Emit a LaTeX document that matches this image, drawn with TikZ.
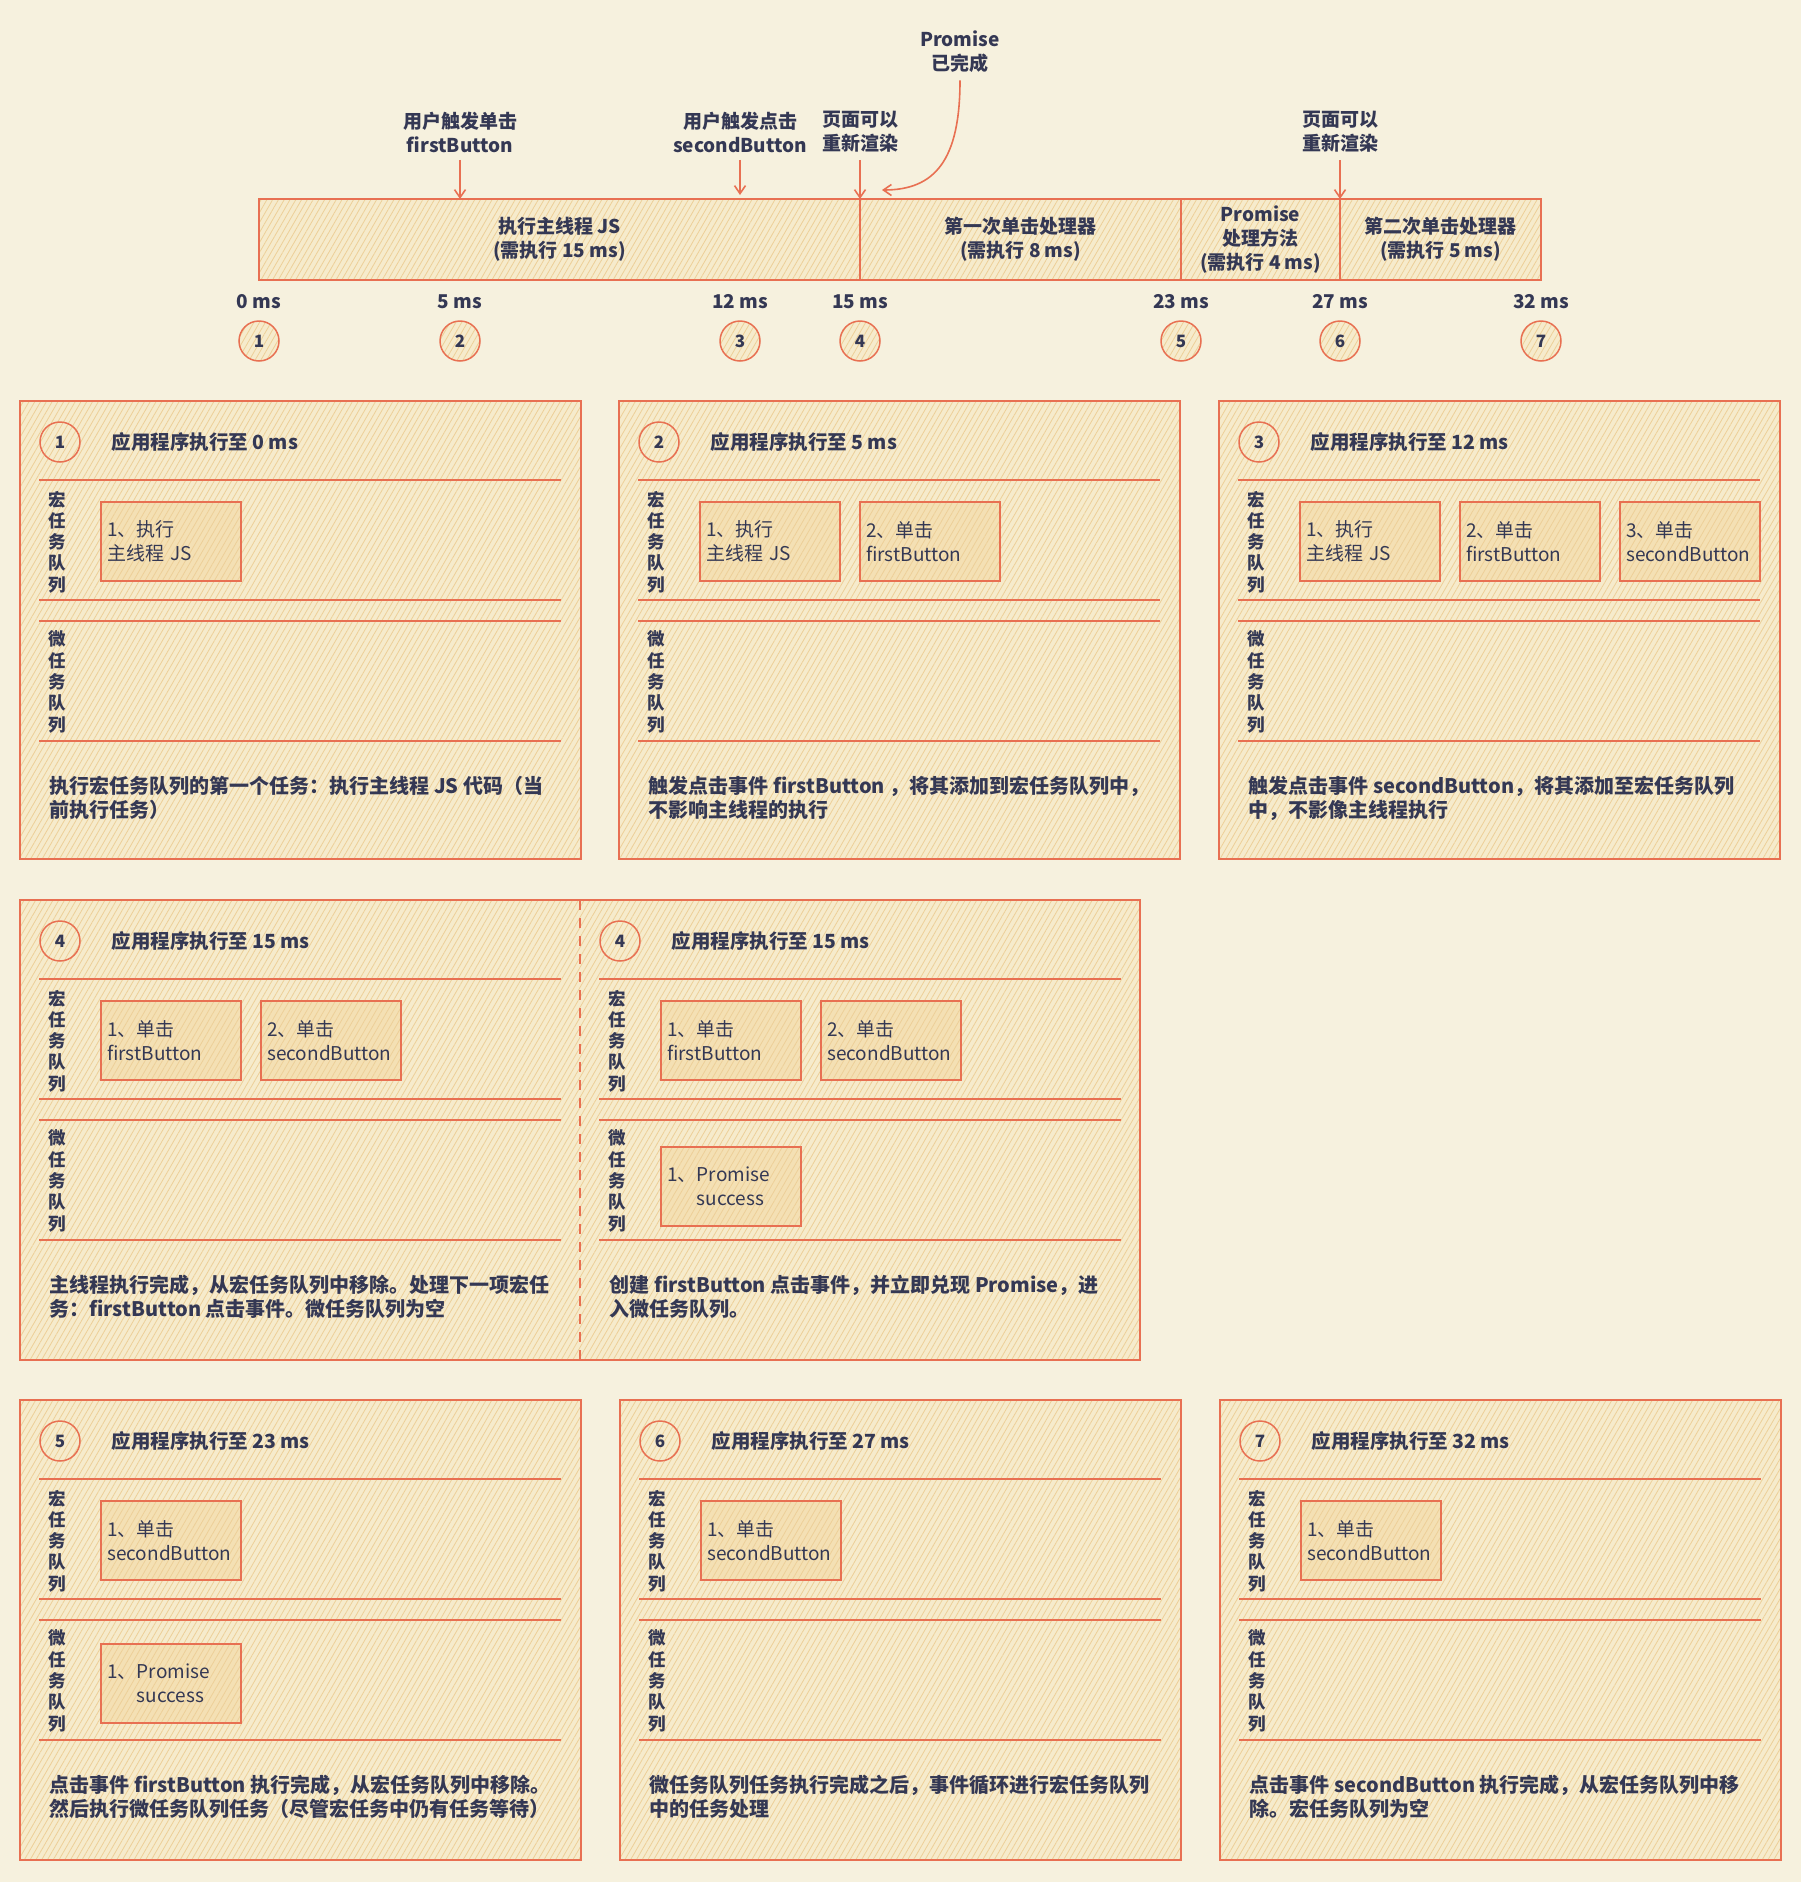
\documentclass[tikz,border=0pt]{standalone}
\usepackage{fontspec}
\setmainfont{Noto Sans CJK SC}
\usetikzlibrary{arrows.meta,patterns.meta}

\definecolor{bgcream}{RGB}{246,241,222}
\definecolor{panelfill}{RGB}{246,235,204}
\definecolor{hatch}{RGB}{237,207,152}
\definecolor{boxfill}{RGB}{244,224,180}
\definecolor{coral}{RGB}{232,112,82}
\definecolor{ink}{RGB}{52,56,84}

\tikzset{
  hatched/.style={preaction={fill=panelfill}, preaction={pattern={Lines[angle=60,distance=5pt,line width=0.8pt]}, pattern color=hatch}},
  boxhatched/.style={preaction={fill=boxfill}, preaction={pattern={Lines[angle=60,distance=5pt,line width=0.8pt]}, pattern color=hatch}},
  sketchbox/.style={draw=coral, line width=1.8pt, hatched},
  rule/.style={draw=coral, line width=1.8pt},
  seg/.style={sketchbox, anchor=north west, inner sep=0pt, outer sep=0pt, minimum height=81pt, align=center, text=ink, font=\bfseries\fontsize{19}{24}\selectfont},
  numc/.style={circle, draw=coral, line width=1.5pt, hatched, minimum size=40pt, inner sep=0pt, text=ink, font=\bfseries\fontsize{17}{20}\selectfont},
  task/.style={draw=coral, line width=1.5pt, boxhatched,
    anchor=north west, minimum width=140pt, minimum height=79pt, text width=127pt, inner xsep=6.5pt, inner ysep=0pt, align=left, text=ink, font=\fontsize{19}{24}\selectfont},
  ttl/.style={anchor=west, text=ink, font=\bfseries\fontsize{19.5}{22}\selectfont},
  qlbl/.style={align=center, text=ink, font=\bfseries\fontsize{17.5}{21.3}\selectfont},
  desc/.style={anchor=west, align=left, text=ink, font=\bfseries\fontsize{20}{24}\selectfont},
  lbl/.style={align=center, text=ink, font=\bfseries\fontsize{19}{24}\selectfont},
  mslbl/.style={text=ink, font=\bfseries\fontsize{19}{22}\selectfont},
  arr/.style={draw=coral, line width=1.6pt, shorten <=4pt, -{Straight Barb[length=8pt,width=11pt]}}
}

% #1 name prefix, #2 step number, #3 time
\newcommand\panelbody[3]{%
  \node[numc] (#1-num) at (40,41) {#2};
  \node[ttl] (#1-title) at (88,41) {应用程序执行至 #3 ms};
  \draw[rule] (19,79) -- (541,79);
  \draw[rule] (19,199) -- (541,199);
  \draw[rule] (19,220) -- (541,220);
  \draw[rule] (19,340) -- (541,340);
  \node[qlbl] (#1-mac) at (37,141) {宏\\任\\务\\队\\列};
  \node[qlbl] (#1-mic) at (37,281) {微\\任\\务\\队\\列};
}

\begin{document}
\begin{tikzpicture}[x=1pt, y=-1pt]
\useasboundingbox (0,0) rectangle (1801,1882);
\fill[bgcream] (0,0) rectangle (1801,1882);

\node[seg, minimum width=601pt] (seg1) at (259,199) {执行主线程 JS\\(需执行 15 ms)};
\node[seg, minimum width=321pt] (seg2) at (860,199) {第一次单击处理器\\(需执行 8 ms)};
\node[seg, minimum width=159pt] (seg3) at (1181,199) {Promise\\处理方法\\(需执行 4 ms)};
\node[seg, minimum width=201pt] (seg4) at (1340,199) {第二次单击处理器\\(需执行 5 ms)};

\foreach \x/\t/\n in {259/0/1, 460/5/2, 740/12/3, 860/15/4, 1181/23/5, 1340/27/6, 1541/32/7} {
  \node[mslbl] (ms\n) at (\x,302) {\t\ ms};
  \node[numc] (c\n) at (\x,341) {\n};
}

\coordinate (hit1) at (460,199);
\coordinate (hit2) at (740,195);
\coordinate (hit3) at (860,199);
\coordinate (hit4) at (882,190);
\coordinate (hit5) at (1340,199);

\node[lbl] (clk1) at (460,132) {用户触发单击\\firstButton};
\node[lbl] (clk2) at (740,132) {用户触发点击\\secondButton};
\node[lbl] (rend1) at (860,132) {页面可以\\重新渲染};
\node[lbl] (rend2) at (1340,132) {页面可以\\重新渲染};
\node[lbl] (pdone) at (960,52) {Promise\\已完成};

\draw[arr] (clk1) -- (hit1);
\draw[arr] (clk2) -- (hit2);
\draw[arr] (rend1) -- (hit3);
\draw[arr] (rend2) -- (hit5);
\draw[arr] (pdone.south) .. controls (960,160) and (935,190) .. (hit4);

% row 1
\begin{scope}[shift={(20,401)}]
  \draw[sketchbox] (0,0) rectangle (561,458);
  \panelbody{p1}{1}{0}
  \node[task] (p1-t1) at (80,100) {1、执行\\主线程 JS};
  \node[desc] (p1-desc) at (26,397) {执行宏任务队列的第一个任务：执行主线程 JS 代码（当\\前执行任务）};
\end{scope}

\begin{scope}[shift={(619,401)}]
  \draw[sketchbox] (0,0) rectangle (561,458);
  \panelbody{p2}{2}{5}
  \node[task] (p2-t1) at (80,100) {1、执行\\主线程 JS};
  \node[task] (p2-t2) at (240,100) {2、单击\\firstButton};
  \node[desc] (p2-desc) at (26,397) {触发点击事件 firstButton ，将其添加到宏任务队列中，\\不影响主线程的执行};
\end{scope}

\begin{scope}[shift={(1219,401)}]
  \draw[sketchbox] (0,0) rectangle (561,458);
  \panelbody{p3}{3}{12}
  \node[task] (p3-t1) at (80,100) {1、执行\\主线程 JS};
  \node[task] (p3-t2) at (240,100) {2、单击\\firstButton};
  \node[task] (p3-t3) at (400,100) {3、单击\\secondButton};
  \node[desc] (p3-desc) at (26,397) {触发点击事件 secondButton，将其添加至宏任务队列\\中，不影像主线程执行};
\end{scope}

% row 2
\begin{scope}[shift={(20,900)}]
  \draw[sketchbox] (0,0) rectangle (1120,460);
  \draw[rule, dash pattern=on 10pt off 8pt] (560,0) -- (560,460);
  \panelbody{p4}{4}{15}
  \node[task] (p4-t1) at (80,100) {1、单击\\firstButton};
  \node[task] (p4-t2) at (240,100) {2、单击\\secondButton};
  \node[desc] (p4-desc) at (26,397) {主线程执行完成，从宏任务队列中移除。处理下一项宏任\\务：firstButton 点击事件。微任务队列为空};
\end{scope}

\begin{scope}[shift={(580,900)}]
  \panelbody{p4b}{4}{15}
  \node[task] (p4b-t1) at (80,100) {1、单击\\firstButton};
  \node[task] (p4b-t2) at (240,100) {2、单击\\secondButton};
  \node[task] (p4b-m1) at (80,246) {1、Promise\\\phantom{1、}success};
  \node[desc] (p4b-desc) at (26,397) {创建 firstButton 点击事件，并立即兑现 Promise，进\\入微任务队列。};
\end{scope}

% row 3
\begin{scope}[shift={(20,1400)}]
  \draw[sketchbox] (0,0) rectangle (561,460);
  \panelbody{p5}{5}{23}
  \node[task] (p5-t1) at (80,100) {1、单击\\secondButton};
  \node[task] (p5-m1) at (80,243) {1、Promise\\\phantom{1、}success};
  \node[desc] (p5-desc) at (26,397) {点击事件 firstButton 执行完成，从宏任务队列中移除。\\然后执行微任务队列任务（尽管宏任务中仍有任务等待）};
\end{scope}

\begin{scope}[shift={(620,1400)}]
  \draw[sketchbox] (0,0) rectangle (561,460);
  \panelbody{p6}{6}{27}
  \node[task] (p6-t1) at (80,100) {1、单击\\secondButton};
  \node[desc] (p6-desc) at (26,397) {微任务队列任务执行完成之后，事件循环进行宏任务队列\\中的任务处理};
\end{scope}

\begin{scope}[shift={(1220,1400)}]
  \draw[sketchbox] (0,0) rectangle (561,460);
  \panelbody{p7}{7}{32}
  \node[task] (p7-t1) at (80,100) {1、单击\\secondButton};
  \node[desc] (p7-desc) at (26,397) {点击事件 secondButton 执行完成，从宏任务队列中移\\除。宏任务队列为空};
\end{scope}
\end{tikzpicture}
\end{document}
